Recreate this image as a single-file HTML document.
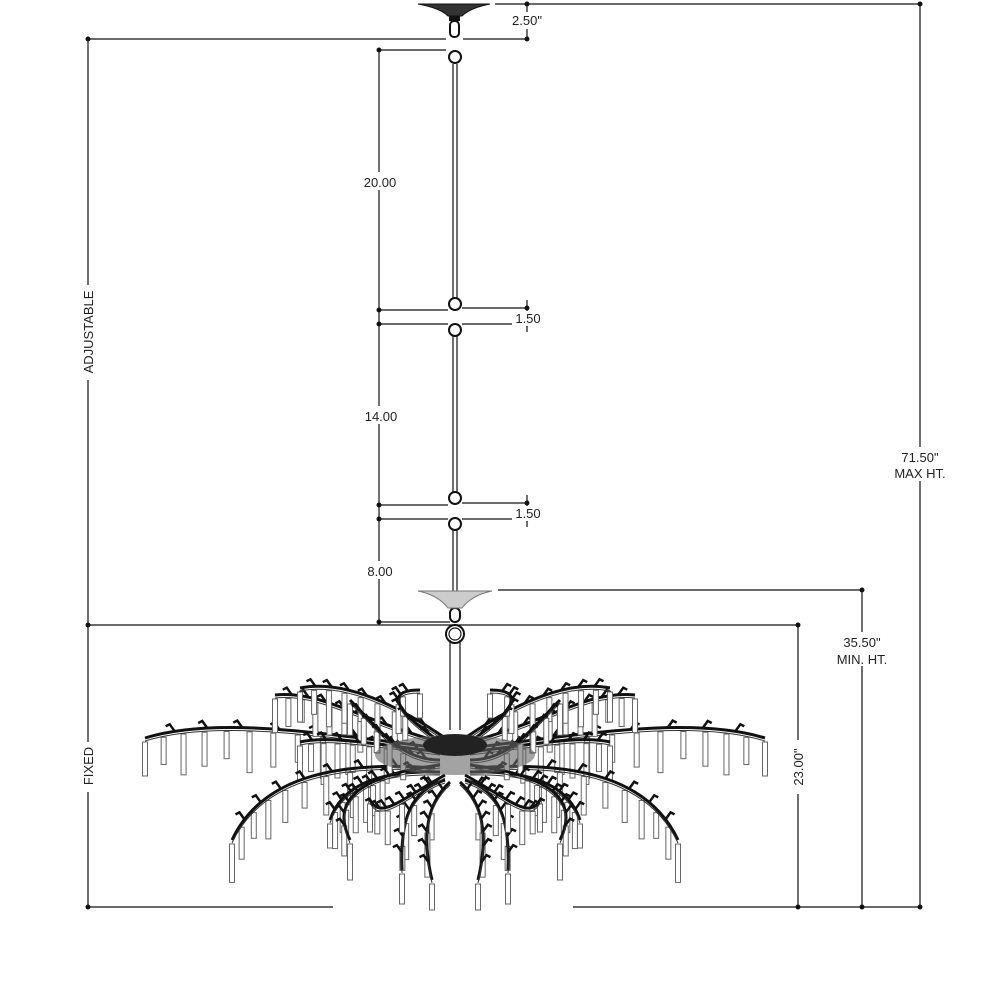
<!DOCTYPE html>
<html><head><meta charset="utf-8"><style>
html,body{margin:0;padding:0;background:#fff;width:1000px;height:1000px;overflow:hidden}
text{font-family:"Liberation Sans",sans-serif;font-size:13px;fill:#222}
</style></head><body>
<svg id="s" width="1000" height="1000" viewBox="0 0 1000 1000" xmlns="http://www.w3.org/2000/svg">
<g stroke="#111" stroke-width="1.2" fill="none">
<line x1="495" y1="4" x2="920" y2="4"/>
<line x1="88" y1="39" x2="446" y2="39"/><line x1="463" y1="39" x2="527" y2="39"/>
<line x1="527" y1="4" x2="527" y2="39"/>
<line x1="88" y1="39" x2="88" y2="907"/>
<line x1="379" y1="50" x2="446" y2="50"/>
<line x1="379" y1="50" x2="379" y2="622"/>
<line x1="379" y1="310" x2="448" y2="310"/><line x1="462" y1="308" x2="527" y2="308"/>
<line x1="379" y1="324" x2="448" y2="324"/><line x1="462" y1="324" x2="527" y2="324"/>
<line x1="527" y1="300" x2="527" y2="332"/>
<line x1="379" y1="505" x2="448" y2="505"/><line x1="462" y1="503" x2="527" y2="503"/>
<line x1="379" y1="519" x2="448" y2="519"/><line x1="462" y1="519" x2="527" y2="519"/>
<line x1="527" y1="495" x2="527" y2="527"/>
<line x1="379" y1="622" x2="450" y2="622"/>
<line x1="498" y1="590" x2="862" y2="590"/>
<line x1="862" y1="590" x2="862" y2="907"/>
<line x1="88" y1="625" x2="798" y2="625"/>
<line x1="798" y1="625" x2="798" y2="907"/>
<line x1="920" y1="4" x2="920" y2="907"/>
<line x1="88" y1="907" x2="333" y2="907"/><line x1="573" y1="907" x2="920" y2="907"/>
</g>
<g fill="#111">
<circle cx="527" cy="4" r="2.5"/><circle cx="920" cy="4" r="2.5"/>
<circle cx="88" cy="39" r="2.5"/><circle cx="527" cy="39" r="2.5"/>
<circle cx="379" cy="50" r="2.5"/><circle cx="379" cy="310" r="2.5"/><circle cx="379" cy="324" r="2.5"/>
<circle cx="379" cy="505" r="2.5"/><circle cx="379" cy="519" r="2.5"/><circle cx="379" cy="622" r="2.5"/>
<circle cx="527" cy="308" r="2.5"/><circle cx="527" cy="324" r="2.5"/>
<circle cx="527" cy="503" r="2.5"/><circle cx="527" cy="519" r="2.5"/>
<circle cx="862" cy="590" r="2.5"/><circle cx="88" cy="625" r="2.5"/><circle cx="798" cy="625" r="2.5"/>
<circle cx="88" cy="907" r="2.5"/><circle cx="798" cy="907" r="2.5"/><circle cx="862" cy="907" r="2.5"/><circle cx="920" cy="907" r="2.5"/>
</g>
<path d="M418,4 L490,4 Q470,8 462,16 L448,16 Q440,8 418,4Z" fill="#333" stroke="#111"/>
<rect x="449" y="16" width="11" height="5" fill="#111"/>
<rect x="450" y="21" width="9" height="16" rx="4" fill="none" stroke="#111" stroke-width="2"/>
<g stroke="#111" fill="none" stroke-width="1.2">
<line x1="453" y1="64" x2="453" y2="298"/><line x1="457" y1="64" x2="457" y2="298"/>
<line x1="453" y1="336" x2="453" y2="492"/><line x1="457" y1="336" x2="457" y2="492"/>
<line x1="453" y1="530" x2="453" y2="600"/><line x1="457" y1="530" x2="457" y2="600"/>
<circle cx="455" cy="57" r="6" stroke-width="2"/>
<circle cx="455" cy="304" r="6" stroke-width="2"/><circle cx="455" cy="330" r="6" stroke-width="2"/>
<circle cx="455" cy="498" r="6" stroke-width="2"/><circle cx="455" cy="524" r="6" stroke-width="2"/>
<rect x="450" y="608" width="10" height="14" rx="5" stroke-width="2"/>
<circle cx="455" cy="634" r="9" stroke-width="2"/><circle cx="455" cy="634" r="6"/>
<line x1="450" y1="640" x2="450" y2="730"/><line x1="460" y1="640" x2="460" y2="730"/>
</g>
<path d="M418,591 L492,591 Q472,595 462,608 L448,608 Q438,595 418,591Z" fill="#ccc" stroke="#777"/>
<rect x="360" y="172" width="40" height="18" fill="#fff"/><text x="380" y="187" text-anchor="middle">20.00</text>
<rect x="360" y="406" width="42" height="18" fill="#fff"/><text x="381" y="421" text-anchor="middle">14.00</text>
<rect x="364" y="561" width="32" height="18" fill="#fff"/><text x="380" y="576" text-anchor="middle">8.00</text>
<rect x="512" y="311" width="32" height="15" fill="#fff"/><text x="528" y="323" text-anchor="middle">1.50</text>
<rect x="512" y="506" width="32" height="15" fill="#fff"/><text x="528" y="518" text-anchor="middle">1.50</text>
<rect x="508" y="12" width="40" height="17" fill="#fff"/><text x="527" y="25" text-anchor="middle">2.50"</text>
<rect x="830" y="632" width="62" height="34" fill="#fff"/>
<text x="862" y="647" text-anchor="middle">35.50"</text><text x="862" y="664" text-anchor="middle">MIN. HT.</text>
<rect x="888" y="447" width="66" height="34" fill="#fff"/>
<text x="920" y="462" text-anchor="middle">71.50"</text><text x="920" y="478" text-anchor="middle">MAX HT.</text>
<rect x="790" y="740" width="18" height="54" fill="#fff"/>
<text x="803" y="767" text-anchor="middle" transform="rotate(-90 803 767)">23.00"</text>
<rect x="78" y="285" width="20" height="95" fill="#fff"/>
<text x="93" y="332" text-anchor="middle" transform="rotate(-90 93 332)">ADJUSTABLE</text>
<rect x="78" y="742" width="20" height="50" fill="#fff"/>
<text x="93" y="766" text-anchor="middle" transform="rotate(-90 93 766)">FIXED</text>
<g id="ch"></g>
</svg>
<script>
var ns="http://www.w3.org/2000/svg",g=document.getElementById('ch');
function el(t,a){var e=document.createElementNS(ns,t);for(var k in a)e.setAttribute(k,a[k]);g.appendChild(e);return e;}
function bez(p,t){var u=1-t;return[u*u*u*p[0]+3*u*u*t*p[2]+3*u*t*t*p[4]+t*t*t*p[6],u*u*u*p[1]+3*u*u*t*p[3]+3*u*t*t*p[5]+t*t*t*p[7]];}
var B=[
[440,748,330,735,220,715,145,738,9,34],
[440,742,360,720,320,690,275,695,7,28],
[445,738,390,700,340,680,300,688,6,30],
[440,752,380,745,330,735,300,742,6,34],
[435,768,330,760,260,780,232,840,7,32],
[440,772,370,770,340,790,330,820,5,30],
[445,780,410,790,400,820,402,870,3,30],
[450,782,430,800,420,830,432,880,3,26],
[440,760,400,760,380,730,350,700,4,26],
[445,745,400,715,380,690,420,690,3,24],
[440,765,360,775,330,800,350,840,4,30],
[445,775,400,800,380,820,370,800,3,28]
];
B.forEach(function(b){
 [1,-1].forEach(function(s){
  var p=b.slice(0,8);if(s<0)for(var i=0;i<8;i+=2)p[i]=910-p[i];
  var n=Math.max(3,b[8]+1);
  for(var i=1;i<=n;i++){var q=bez(p,0.2+0.8*i/n);var L=b[9]*(0.8+0.4*((i*7)%3)/2);
   el('rect',{x:q[0]-2.5,y:q[1]+4,width:5,height:L,fill:'#fff',stroke:'#666','stroke-width':1});}
  el('path',{d:'M'+p[0]+','+p[1]+'C'+p[2]+','+p[3]+' '+p[4]+','+p[5]+' '+p[6]+','+p[7],fill:'none',stroke:'#111','stroke-width':3});
  el('path',{d:'M'+p[0]+','+(p[1]+3)+'C'+p[2]+','+(p[3]+3)+' '+p[4]+','+(p[5]+3)+' '+p[6]+','+(p[7]+3),fill:'none',stroke:'#333','stroke-width':1});
  for(var i=1;i<8;i++){var q=bez(p,i/8);el('path',{d:'M'+q[0]+','+q[1]+'l'+(s*-5)+',-7 l'+(s*-4)+',2',fill:'none',stroke:'#111','stroke-width':2.5});}
 });
});
el('ellipse',{cx:455,cy:755,rx:80,ry:20,fill:'#666',opacity:0.6});
el('ellipse',{cx:455,cy:745,rx:32,ry:11,fill:'#222'});
</script>
</body></html>
